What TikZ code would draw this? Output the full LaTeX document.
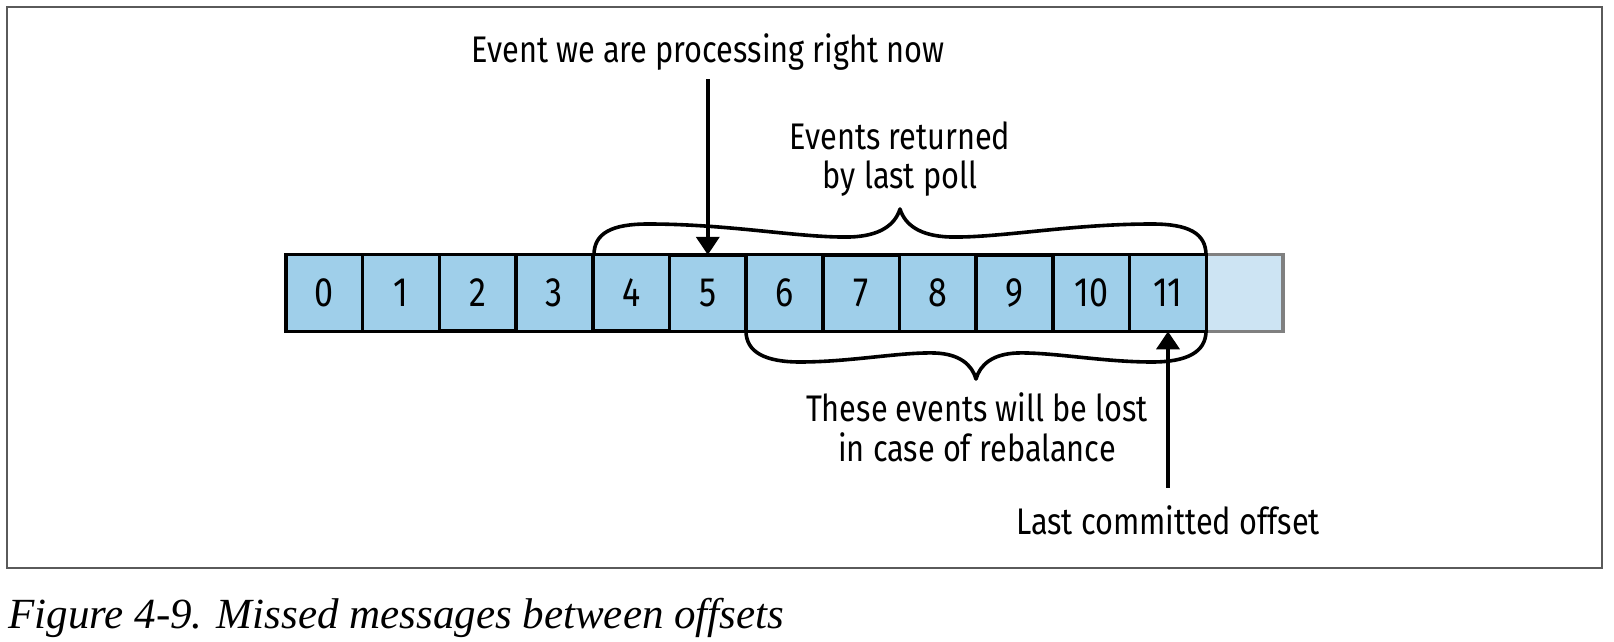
\documentclass[tikz,border=0pt]{standalone}
\usepackage{fontspec}
\newfontfamily\notefont{Fira Sans}[FakeStretch=0.83]
\newfontfamily\captionfont{Liberation Serif}
\usetikzlibrary{matrix,arrows.meta}
\definecolor{cellblue}{RGB}{159,207,234}
\definecolor{spareblue}{RGB}{205,228,243}
\definecolor{sparegray}{RGB}{128,128,128}
\definecolor{framegray}{RGB}{90,90,90}
\tikzset{
	cell/.style={draw, line width=1.8pt, fill=cellblue, minimum size=38.35pt, inner sep=0pt, outer sep=0pt, font=\notefont\fontsize{20.5}{22}\selectfont},
	spare/.style={cell, draw=sparegray, fill=spareblue},
	note/.style={font=\notefont\fontsize{18.5}{19.8}\selectfont, align=center, inner sep=0pt},
	pointer/.style={line width=1.8pt, -{Triangle[length=9pt,width=11.5pt]}},
	brace/.style={line width=1.8pt, line join=round}
}

\begin{document}
\begin{tikzpicture}[x=0.5pt,y=-0.5pt]
			\useasboundingbox (0,0) rectangle (1614,642);
			\draw[framegray, line width=1pt] (7,7) rectangle (1602,568);
			\matrix (m) at (784.5,293) [matrix of nodes, nodes={cell}, column sep=-1.8pt]
			{
				0 & 1 & 2 & 3 & 4 & 5 & 6 & 7 & 8 & 9 & 10 & 11 & |[spare]| \phantom{0} \\
			};
			\draw[line width=1.8pt, line cap=rect] (m-1-12.north east) -- (m-1-12.south east);
			\node[note, anchor=base] (now) at (708,63) {Event we are processing right now};
			\node[note, anchor=base] (polled) at (900,189) {Events returned\\by last poll};
			\node[note, anchor=base] (lost) at (977,461) {These events will be lost\\in case of rebalance};
			\node[note, anchor=base] (committed) at (1168,534) {Last committed offset};
			\node[anchor=base west, inner sep=0pt, font=\captionfont\itshape\fontsize{21.5}{24}\selectfont] (caption) at (8,628) {Figure 4-9. Missed messages between offsets};
			\draw[brace] (594,255) .. controls (594,233) and (612,224) .. (648,224)
				.. controls (730,224) and (800,238) .. (850,237)
				.. controls (880,236) and (895,225) .. (900,209)
				.. controls (905,225) and (920,236) .. (950,237)
				.. controls (1000,238) and (1070,224) .. (1152,224)
				.. controls (1188,224) and (1206,233) .. (1206,255);
			\draw[brace] (746,331) .. controls (746,352) and (765,362) .. (800,362)
				.. controls (850,362) and (900,352) .. (935,353)
				.. controls (960,354) and (972,365) .. (976,379)
				.. controls (980,365) and (992,354) .. (1017,353)
				.. controls (1052,352) and (1102,362) .. (1152,362)
				.. controls (1187,362) and (1206,352) .. (1206,331);
			\draw[pointer, shorten <=4pt] (now.south -| m-1-6.north) -- (m-1-6.north);
			\draw[pointer, shorten <=8.5pt] (committed.north -| m-1-12.south) -- (m-1-12.south);
		\end{tikzpicture}
\end{document}
